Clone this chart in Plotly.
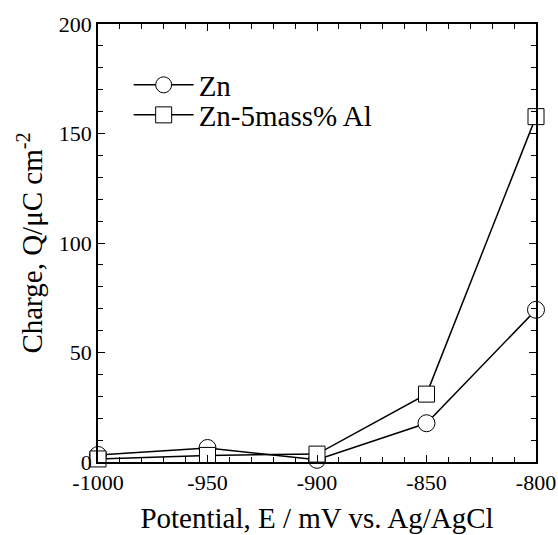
import plotly.graph_objects as go

potential = [-1000, -950, -900, -850, -800]
zn = [3.2, 6.4, 1.0, 17.7, 69.5]
zn_al = [1.4, 3.0, 3.6, 31.0, 157.7]
x_ticks = [-1000, -950, -900, -850, -800]
x_ticktext = ["-1000", "-950", "-900", "-850", "-800"]
y_ticks = [0, 50, 100, 150, 200]

font = "Liberation Serif, Times New Roman, serif"

fig = go.Figure()
fig.add_trace(go.Scatter(
    x=potential, y=zn, name="Zn", mode="lines+markers",
    line=dict(color="black", width=1.5),
    marker=dict(symbol="circle", size=17, color="white", line=dict(color="black", width=1)),
    cliponaxis=False, legend="legend",
))
fig.add_trace(go.Scatter(
    x=potential, y=zn_al, name="Zn-5mass% Al", mode="lines+markers",
    line=dict(color="black", width=1.5),
    marker=dict(symbol="square", size=16, color="white", line=dict(color="black", width=1)),
    cliponaxis=False, legend="legend2",
))

axis_common = dict(
    showline=True, linecolor="black", linewidth=1.5, mirror="allticks",
    ticks="inside", ticklen=7, tickcolor="black", tickwidth=1,
    showgrid=False, zeroline=False, ticklabeloverflow="allow",
    automargin=False,
    tickfont=dict(family=font, size=22, color="black"),
)

legend_common = dict(xanchor="left", yanchor="middle", bgcolor="rgba(0,0,0,0)",
                     font=dict(family=font, size=29, color="black"),
                     itemwidth=60, borderwidth=0)

PT, PB = 24, 462
H = PB - PT

fig.update_layout(
    width=558, height=535,
    margin=dict(l=98, r=22, t=PT, b=535 - PB),
    paper_bgcolor="white", plot_bgcolor="white",
    font=dict(family=font, color="black"),
    showlegend=True,
    legend=dict(x=0.07, y=(PB - 85) / H, **legend_common),
    legend2=dict(x=0.07, y=(PB - 115) / H, **legend_common),
    xaxis=dict(
        range=[-1000, -800], tickvals=x_ticks, ticktext=x_ticktext,
        minor=dict(dtick=10, ticks="inside", ticklen=5, tickcolor="black"),
        title=dict(text="Potential, E / mV vs. Ag/AgCl", font=dict(family=font, size=29, color="black"), standoff=14),
        **axis_common,
    ),
    yaxis=dict(
        range=[0, 200], tickvals=y_ticks,
        minor=dict(dtick=10, ticks="inside", ticklen=5, tickcolor="black"),
        title=dict(text="Charge, Q/μC cm<sup>-2</sup>", font=dict(family=font, size=29, color="black"), standoff=8),
        **axis_common,
    ),
)

fig.write_html("out.html", config={"displayModeBar": False},
               post_script="document.body.style.margin='0';document.body.style.overflow='hidden';")
